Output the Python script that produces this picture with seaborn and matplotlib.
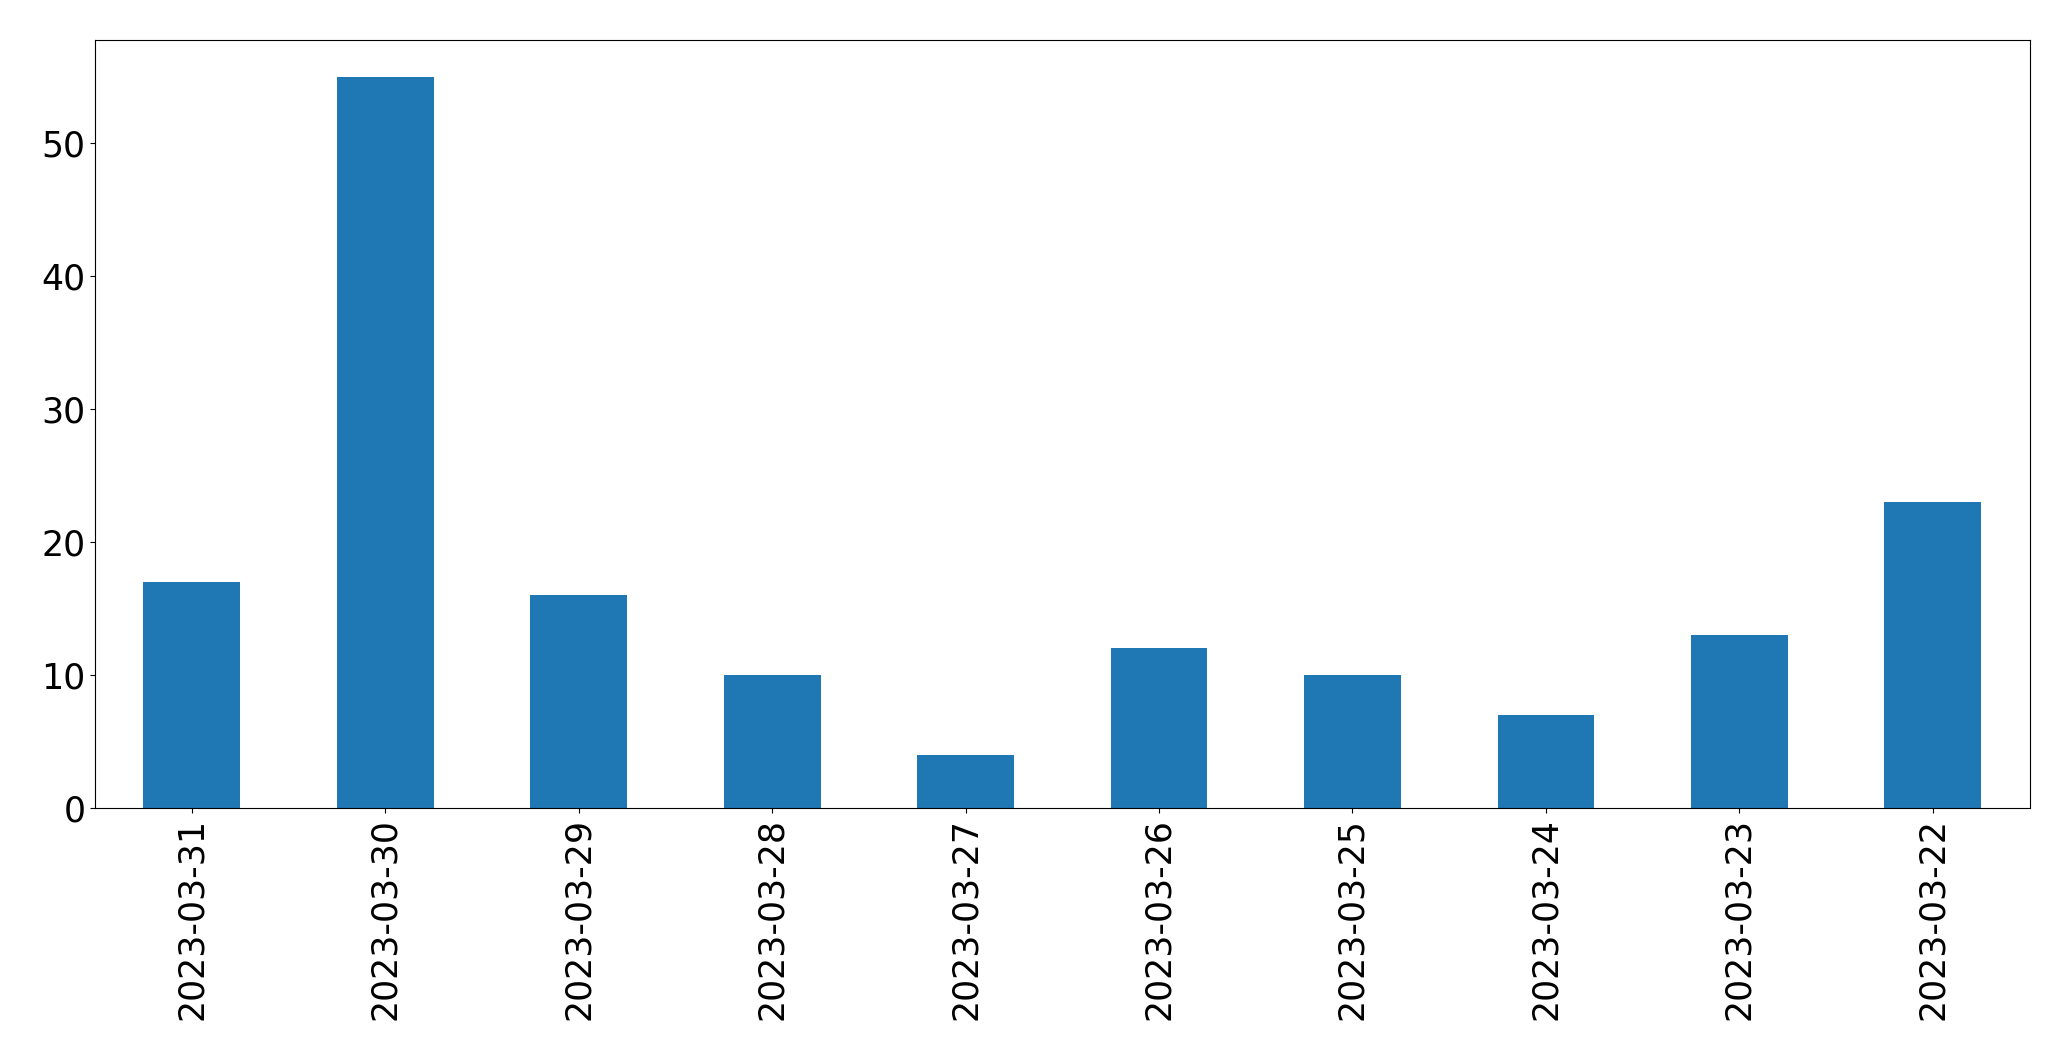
import matplotlib
matplotlib.use("Agg")
import matplotlib.pyplot as plt
import seaborn as sns

dates = ["2023-03-31", "2023-03-30", "2023-03-29", "2023-03-28", "2023-03-27",
         "2023-03-26", "2023-03-25", "2023-03-24", "2023-03-23", "2023-03-22"]
counts = [17, 55, 16, 10, 4, 12, 10, 7, 13, 23]

fig, ax = plt.subplots(figsize=(20.71, 10.61), dpi=100)
fig.subplots_adjust(left=0.0459, right=0.980, top=0.962, bottom=0.2385)

sns.barplot(x=dates, y=counts, color="#1f77b4", saturation=1, width=0.5, ax=ax)

ax.set_xlim(-0.5, len(dates) - 0.5)
ax.set_ylim(0, max(counts) * 1.05)
ax.tick_params(axis="both", labelsize=25)
ax.tick_params(axis="x", labelrotation=90)
ax.set_xlabel("")
ax.set_ylabel("")

fig.savefig("out.png", dpi=100)
